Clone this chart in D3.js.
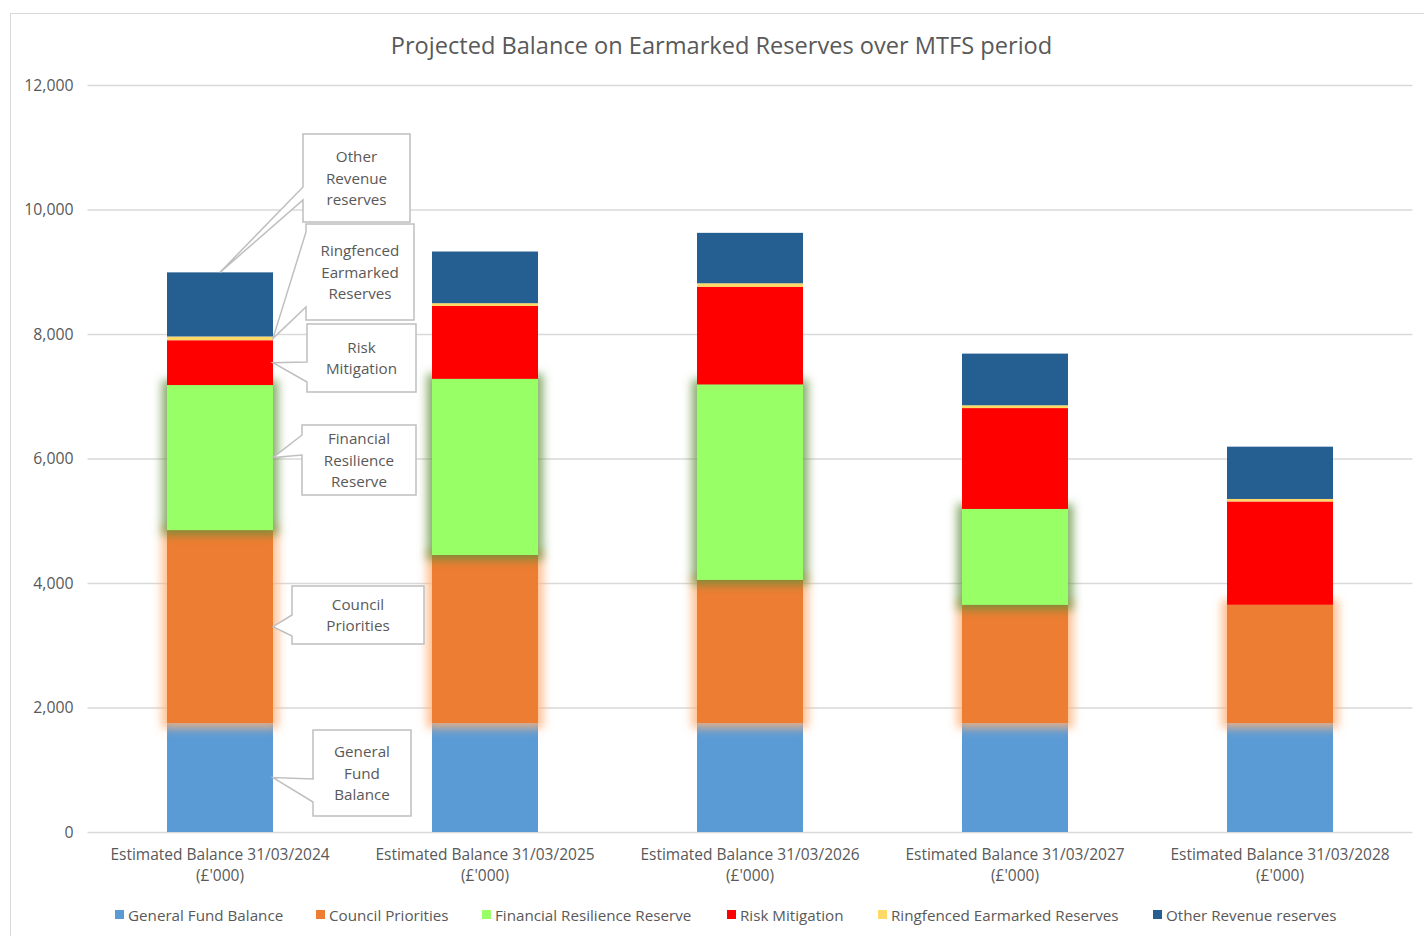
<!DOCTYPE html>
<html>
<head>
<meta charset="utf-8">
<title>Projected Balance on Earmarked Reserves</title>
<script src="https://cdn.jsdelivr.net/npm/d3@7"></script>
<style>
body { margin:0; background:#fff; }
svg text { font-family: "Open Sans", "Noto Sans", sans-serif; fill:#595959; }
</style>
</head>
<body>
<svg id="chart" width="1424" height="936"></svg>
<script>
// data (£'000)
var categories = ["Estimated Balance 31/03/2024", "Estimated Balance 31/03/2025",
  "Estimated Balance 31/03/2026", "Estimated Balance 31/03/2027", "Estimated Balance 31/03/2028"];
var seriesNames = ["General Fund Balance", "Council Priorities", "Financial Resilience Reserve",
  "Risk Mitigation", "Ringfenced Earmarked Reserves", "Other Revenue reserves"];
var generalFund = [1750, 1750, 1750, 1750, 1750];
var councilPriorities = [3100, 2700, 2300, 1900, 1900];
var financialResilience = [2330, 2830, 3140, 1540, 0];
var riskMitigation = [720, 1170, 1570, 1620, 1660];
var ringfenced = [60, 45, 55, 45, 40];
var otherRevenue = [1030, 830, 810, 830, 840];
var yTicks = [0, 2000, 4000, 6000, 8000, 10000, 12000];

var colors = ["#5b9bd5", "#ed7d31", "#99ff66", "#ff0000", "#ffd966", "#255e91"];
var glows = [null, "#ffb27a", "#5f8f3a", null, null, null];

// callouts on first bar: series index, box, text lines, wedge base (y on left edge), tip type
var callouts = [
  {s:5, box:[303,134,107,88], lines:["Other","Revenue","reserves"], base:[187,200], tip:"top"},
  {s:4, box:[306,224,108,96], lines:["Ringfenced","Earmarked","Reserves"], base:[232,307], tip:"side"},
  {s:3, box:[307,324,109,68], lines:["Risk","Mitigation"], base:[362,382], tip:"side"},
  {s:2, box:[302,425,114,70], lines:["Financial","Resilience","Reserve"], base:[435,455], tip:"side"},
  {s:1, box:[292,586,132,58], lines:["Council","Priorities"], base:[615,636], tip:"side"},
  {s:0, box:[313,730,98,86], lines:["General","Fund","Balance"], base:[779,802], tip:"side"}
];

var svg = d3.select("#chart");
var margin = {left:87.5, right:11.5, top:85, bottom:104};
var W = 1424, H = 936;

var rows = categories.map(function(c, i){
  return {cat:c, v:[generalFund[i], councilPriorities[i], financialResilience[i],
    riskMitigation[i], ringfenced[i], otherRevenue[i]]};
});
var stack = d3.stack().keys(d3.range(6)).value(function(d, k){ return d.v[k]; });
var layers = stack(rows);

var x = d3.scaleBand().domain(categories).range([margin.left, W - margin.right])
  .paddingInner(0.6).paddingOuter(0.3);
var y = d3.scaleLinear().domain([0, 12000]).range([H - margin.bottom, margin.top]);

// chart border
svg.append("rect").attr("x", 10.5).attr("y", 13.5).attr("width", 1430).attr("height", 940)
  .attr("fill", "none").attr("stroke", "#d9d9d9");

// glow filters
var defs = svg.append("defs");
glows.forEach(function(g, i){
  if (!g) return;
  var f = defs.append("filter").attr("id", "glow" + i)
    .attr("x", "-40%").attr("y", "-20%").attr("width", "180%").attr("height", "140%");
  f.append("feMorphology").attr("in", "SourceAlpha").attr("operator", "dilate").attr("radius", 5).attr("result", "d");
  f.append("feGaussianBlur").attr("in", "d").attr("stdDeviation", 5).attr("result", "b");
  f.append("feFlood").attr("flood-color", g).attr("flood-opacity", i == 2 ? 0.75 : 0.85);
  f.append("feComposite").attr("in2", "b").attr("operator", "in").attr("result", "c");
  var m = f.append("feMerge");
  m.append("feMergeNode").attr("in", "c");
  m.append("feMergeNode").attr("in", "SourceGraphic");
});

// grid + y axis
var yAxis = d3.axisLeft(y).tickValues(yTicks).tickSize(-(W - margin.left - margin.right))
  .tickPadding(14).tickFormat(d3.format(","));
var ga = svg.append("g").attr("transform", "translate(" + margin.left + ",0)").call(yAxis);
ga.select(".domain").remove();
ga.selectAll(".tick line").attr("stroke", "#d9d9d9").attr("stroke-width", 1.3);
ga.selectAll(".tick text").attr("font-size", 15.8).attr("fill", "#595959")
  .style("font-family", "'Open Sans', sans-serif");

// bars
layers.forEach(function(layer, i){
  svg.append("g").selectAll("rect").data(layer).join("rect")
    .attr("x", function(d){ return x(d.data.cat); })
    .attr("width", x.bandwidth())
    .attr("y", function(d){ return y(d[1]); })
    .attr("height", function(d){ return y(d[0]) - y(d[1]); })
    .attr("fill", colors[i])
    .attr("filter", function(d){ return glows[i] && d[1] > d[0] ? "url(#glow" + i + ")" : null; });
});

// x axis labels
var xl = svg.append("g").selectAll("text").data(categories).join("text")
  .attr("x", function(d){ return x(d) + x.bandwidth() / 2; })
  .attr("y", 860).attr("text-anchor", "middle").attr("font-size", 15.5);
xl.append("tspan").text(function(d){ return d; });
xl.append("tspan").attr("x", function(d){ return x(d) + x.bandwidth() / 2; }).attr("dy", 21).text("(£'000)");

// title
svg.append("text").attr("x", 721.5).attr("y", 54).attr("text-anchor", "middle")
  .attr("font-size", 23.6).text("Projected Balance on Earmarked Reserves over MTFS period");

// legend
var legendX = [115, 316, 482, 727, 878, 1153];
var lg = svg.append("g").selectAll("g").data(seriesNames).join("g")
  .attr("transform", function(d, i){ return "translate(" + legendX[i] + ",915)"; });
lg.append("rect").attr("x", 0).attr("y", -5).attr("width", 9).attr("height", 9)
  .attr("fill", function(d, i){ return colors[i]; });
lg.append("text").attr("x", 13).attr("y", 5.5).attr("font-size", 15.2).text(function(d){ return d; });

// callouts
var first = categories[0];
callouts.forEach(function(c){
  var seg = layers[c.s][0];
  var tx, ty;
  if (c.tip == "top") { tx = x(first) + x.bandwidth() / 2; ty = y(seg[1]); }
  else { tx = x(first) + x.bandwidth(); ty = y((seg[0] + seg[1]) / 2); }
  var bx = c.box[0], by = c.box[1], bw = c.box[2], bh = c.box[3];
  var path = "M" + bx + "," + by + "H" + (bx + bw) + "V" + (by + bh) + "H" + bx;
  path += "V" + c.base[1] + "L" + tx + "," + ty + "L" + bx + "," + c.base[0] + "V" + by + "Z";
  svg.append("path").attr("d", path).attr("fill", "#fff").attr("stroke", "#bfbfbf").attr("stroke-width", 1.5);
  var t = svg.append("text").attr("text-anchor", "middle").attr("font-size", 15.2);
  var n = c.lines.length;
  c.lines.forEach(function(l, k){
    t.append("tspan").attr("x", bx + bw / 2)
      .attr("y", by + bh / 2 + 5.5 + (k - (n - 1) / 2) * 21.5).text(l);
  });
});
</script>
</body>
</html>
